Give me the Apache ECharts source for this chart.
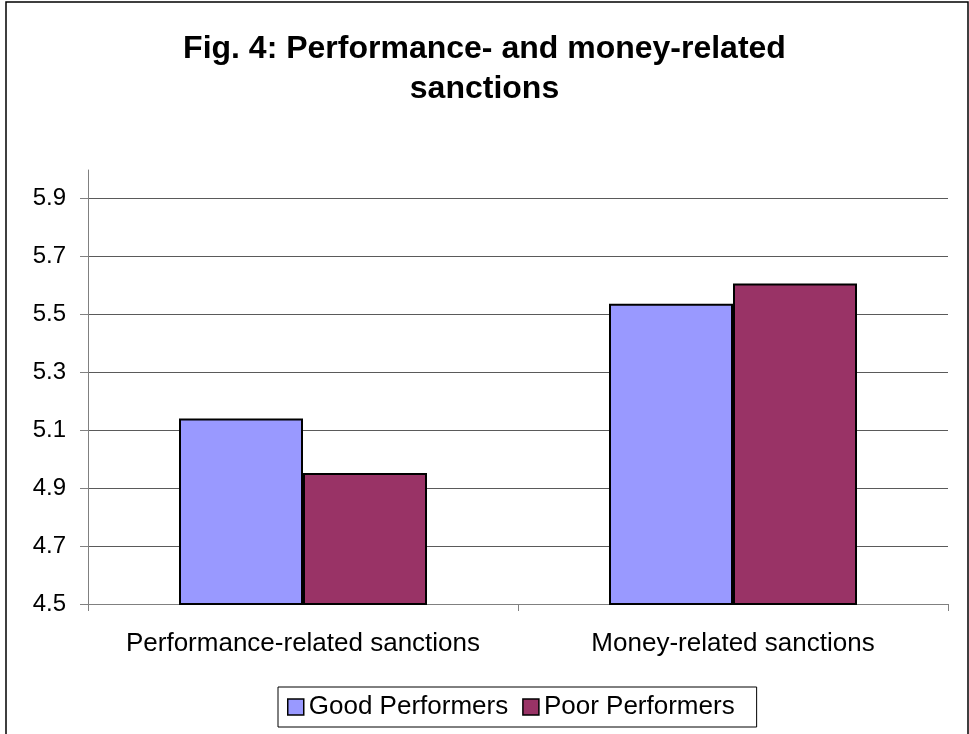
<!DOCTYPE html>
<html lang="en">
<head>
    <meta charset="UTF-8">
    <title>Fig. 4</title>
</head>
<style>
    body{
        margin: 0;
        background-color: #fff;
    }
    .main{
        width: 969px;
        height: 734px;
    }
</style>
<body>
<div id="main" class="main"></div>
<script src="https://cdn.jsdelivr.net/npm/echarts@6/dist/echarts.min.js"></script>
<script>
    var categories = ['Performance-related sanctions', 'Money-related sanctions'];
    var goodPerformers = [5.14, 5.535];
    var poorPerformers = [4.952, 5.605];
    var seriesNames = ['Good Performers', 'Poor Performers'];

    var font = '"Liberation Sans", Arial, sans-serif';
    var app = echarts.init(document.getElementById('main'));

    var option = {
        backgroundColor: '#fff',
        animation: false,
        title: {
            text: 'Fig. 4: Performance- and money-related\nsanctions',
            left: 'center',
            top: 24,
            textStyle: {
                fontFamily: font,
                fontSize: 32,
                fontWeight: 'bold',
                color: '#000',
                lineHeight: 40
            }
        },
        graphic: [{
            // outer chart frame
            type: 'rect',
            shape: {x: 6, y: 2, width: 962, height: 740},
            style: {fill: 'none', stroke: '#000', lineWidth: 1.5},
            silent: true
        }],
        legend: {
            data: seriesNames,
            left: 278,
            top: 687,
            orient: 'horizontal',
            padding: [6, 22, 6, 9],
            itemGap: 14,
            itemWidth: 16,
            itemHeight: 16,
            icon: 'rect',
            borderColor: '#000',
            borderWidth: 1,
            borderRadius: 0,
            itemStyle: {borderColor: '#000', borderWidth: 1.5},
            textStyle: {fontFamily: font, fontSize: 26, color: '#000', lineHeight: 28}
        },
        grid: [
            // grid 0: axis line reaching up to 6.0
            {left: 88, right: 21, top: 170, bottom: 130},
            // grid 1: labelled scale and bars
            {left: 88, right: 21, top: 198, bottom: 130}
        ],
        xAxis: [
            {type: 'category', gridIndex: 0, data: categories, show: false},
            {
                type: 'category',
                gridIndex: 1,
                data: categories,
                axisLine: {lineStyle: {color: '#808080', width: 1}},
                axisTick: {show: true, interval: 0, length: 7, lineStyle: {color: '#808080'}},
                axisLabel: {interval: 0, fontFamily: font, fontSize: 26, color: '#000', margin: 27}
            }
        ],
        yAxis: [
            {
                type: 'value', gridIndex: 0, min: 4.5, max: 6.0,
                axisLine: {show: true, lineStyle: {color: '#808080', width: 1}},
                axisTick: {show: false},
                axisLabel: {show: false},
                splitLine: {show: false}
            },
            {
                type: 'value', gridIndex: 1, min: 4.5, max: 5.9, interval: 0.2,
                axisLine: {show: false},
                axisTick: {show: true, length: 8, lineStyle: {color: '#808080'}},
                axisLabel: {
                    fontFamily: font, fontSize: 24, color: '#000', margin: 22,
                    formatter: function (v) { return v.toFixed(1); }
                },
                splitLine: {show: true, lineStyle: {color: '#5a5a5a', width: 1}}
            }
        ],
        series: [
            {
                name: seriesNames[0],
                type: 'bar',
                xAxisIndex: 1,
                yAxisIndex: 1,
                data: goodPerformers,
                barWidth: 124,
                barGap: '0%',
                itemStyle: {color: '#9999ff', borderColor: '#000', borderWidth: 2}
            },
            {
                name: seriesNames[1],
                type: 'bar',
                xAxisIndex: 1,
                yAxisIndex: 1,
                data: poorPerformers,
                barWidth: 124,
                barGap: '0%',
                itemStyle: {color: '#993366', borderColor: '#000', borderWidth: 2}
            }
        ]
    };

    app.setOption(option);
</script>
</body>
</html>
